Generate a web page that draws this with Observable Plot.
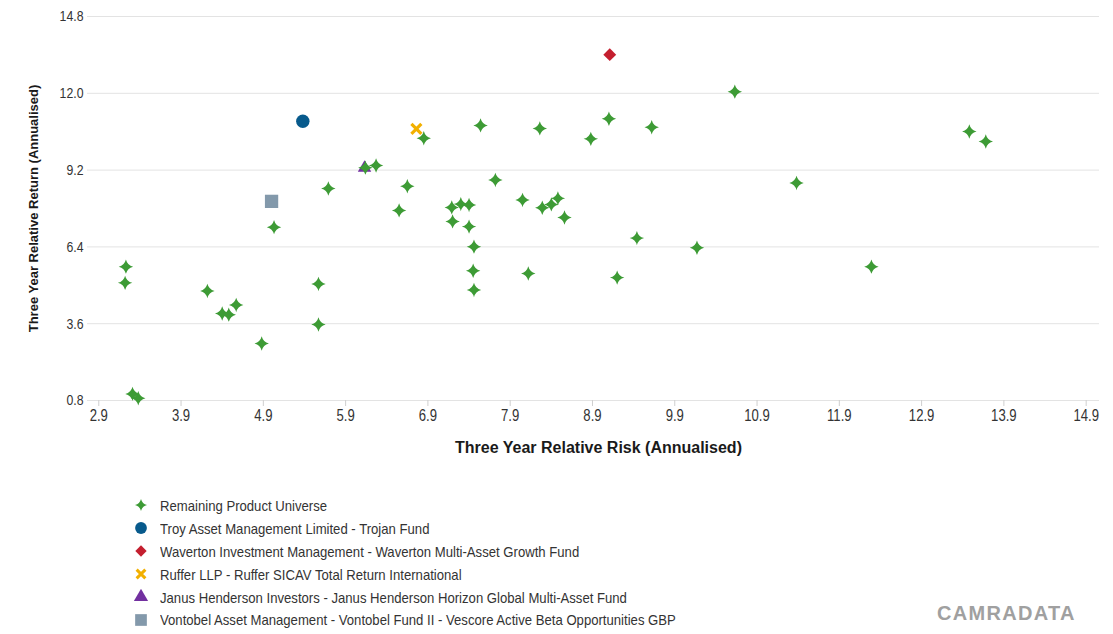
<!DOCTYPE html>
<html>
<head>
<meta charset="utf-8">
<script src="https://cdn.jsdelivr.net/npm/d3@7"></script>
<script src="https://cdn.jsdelivr.net/npm/@observablehq/plot@0.6"></script>
<style>
  html, body { margin: 0; padding: 0; background: #fff; }
  #wrap { position: relative; width: 1113px; height: 634px; overflow: hidden; font-family: "Liberation Sans", Arial, sans-serif; }
  #chart svg { display: block; }
  g[aria-label="x-axis label"] { font-weight: bold; font-size: 16px; font-family: "Liberation Sans", Arial, sans-serif; fill: #1a1a1a; }
  g[aria-label="y-axis label"] { font-weight: bold; font-size: 13px; font-family: "Liberation Sans", Arial, sans-serif; fill: #1a1a1a; }
  .legend { position: absolute; left: 133px; top: 494px; color: #333; font-size: 15px; }
  .legend .row { display: flex; align-items: center; height: 22.9px; white-space: nowrap; }
  .legend svg { width: 16px; height: 16px; margin-right: 11px; flex: none; }
  .legend span { display: inline-block; transform: scaleX(0.875); transform-origin: 0 50%; }
  .brand { position: absolute; left: 937px; top: 600px; font-weight: bold; font-size: 20px; letter-spacing: 1.3px; color: #a0a0a0; font-family: "Liberation Sans", Arial, sans-serif; line-height: 26px; }
</style>
</head>
<body>
<div id="wrap">
  <div id="chart"></div>
  <div class="legend" id="legend"></div>
  <div class="brand">CAMRADATA</div>
</div>
<script>
// ---- data ----
const universeRisk = [6.14, 6.27, 5.69, 5.03, 3.23, 3.22, 4.22, 4.40, 4.48, 4.57, 4.88, 5.57, 5.57, 3.31, 3.38,
  10.63, 6.85, 7.54, 8.26, 9.10, 8.88, 9.62, 6.65, 6.55, 7.72, 7.19, 7.30, 7.40, 7.20, 7.40, 7.46, 7.45, 7.46,
  8.05, 8.29, 8.40, 8.48, 8.56, 8.12, 9.20, 9.44, 10.17, 11.38, 12.29, 13.48, 13.68];
const universeReturn = [9.29, 9.37, 8.53, 7.12, 5.68, 5.09, 4.79, 3.97, 3.93, 4.28, 2.88, 5.05, 3.57, 1.04, 0.88,
  12.06, 10.36, 10.83, 10.72, 11.07, 10.34, 10.76, 8.61, 7.73, 8.84, 7.84, 7.96, 7.93, 7.33, 7.14, 6.41, 5.53, 4.83,
  8.11, 7.83, 7.95, 8.17, 7.47, 5.43, 5.28, 6.72, 6.37, 8.73, 5.68, 10.61, 10.24];
const universeName = "Remaining Product Universe";
const fundNames = [
  "Troy Asset Management Limited - Trojan Fund",
  "Waverton Investment Management - Waverton Multi-Asset Growth Fund",
  "Ruffer LLP - Ruffer SICAV Total Return International",
  "Janus Henderson Investors - Janus Henderson Horizon Global Multi-Asset Fund",
  "Vontobel Asset Management - Vontobel Fund II - Vescore Active Beta Opportunities GBP"
];
const fundRisk = [5.38, 9.11, 6.76, 6.13, 5.00];
const fundReturn = [10.98, 13.41, 10.70, 9.28, 8.06];
const xTicks = [2.9, 3.9, 4.9, 5.9, 6.9, 7.9, 8.9, 9.9, 10.9, 11.9, 12.9, 13.9, 14.9];
const yTicks = [0.8, 3.6, 6.4, 9.2, 12.0, 14.8];
const xTitle = "Three Year Relative Risk (Annualised)";
const yTitle = "Three Year Relative Return (Annualised)";

// ---- styles ----
const star4 = {
  draw(ctx, size) {
    const R = Math.sqrt(size / Math.PI), c = R * 0.2;
    ctx.moveTo(0, -R);
    ctx.quadraticCurveTo(c, -c, R, 0);
    ctx.quadraticCurveTo(c, c, 0, R);
    ctx.quadraticCurveTo(-c, c, -R, 0);
    ctx.quadraticCurveTo(-c, -c, 0, -R);
    ctx.closePath();
  }
};
const universeStyle = {color: "#3d9b35", symbol: star4, r: 7.2};
const fundStyles = [
  {color: "#075a8c", symbol: d3.symbolCircle, name: "circle", r: 6.7},
  {color: "#c41f2f", symbol: d3.symbolDiamond2, name: "diamond2", r: 5.8},
  {color: "#f2b000", symbol: d3.symbolTimes, name: "times", r: 4.6, stroke: true},
  {color: "#7230a0", symbol: d3.symbolTriangle, name: "triangle", r: 5.0, legendR: 6.0},
  {color: "#8399ab", symbol: d3.symbolSquare, name: "square", r: 7.5}
];
const tickFont = '"Liberation Sans", Arial, sans-serif';

// ---- build table ----
const universe = universeRisk.map((x, i) => ({x, y: universeReturn[i]}));
const funds = fundNames.map((name, i) => ({name, x: fundRisk[i], y: fundReturn[i], i}));

function fundDot(i) {
  const s = fundStyles[i];
  const data = funds.filter(d => d.i === i);
  return s.stroke
    ? Plot.dot(data, {x: "x", y: "y", symbol: s.name, r: s.r, stroke: s.color, strokeWidth: 3.2, fill: "none"})
    : Plot.dot(data, {x: "x", y: "y", symbol: s.name, r: s.r, fill: s.color, stroke: "none"});
}

const chart = Plot.plot({
  width: 1113,
  height: 470,
  marginLeft: 87,
  marginRight: 14,
  marginTop: 16,
  marginBottom: 70,
  style: {fontFamily: tickFont, color: "#333", background: "#fff"},
  x: {domain: [2.763, 15.062]},
  y: {domain: [0.8, 14.8]},
  marks: [
    Plot.gridY(yTicks, {stroke: "#e3e3e3", strokeOpacity: 1}),
    Plot.axisY(yTicks, {tickSize: 0, tickPadding: 4, tickFormat: d3.format(".1f"), fontSize: 15,
      label: yTitle, labelAnchor: "center", labelOffset: 59, labelArrow: "none"}),
    Plot.axisX(xTicks, {tickSize: 6, tickPadding: 3, stroke: "#cfcfcf", strokeOpacity: 1, tickFormat: d3.format(".1f"), fontSize: 16,
      label: xTitle, labelAnchor: "center", labelOffset: 52, labelArrow: "none"}),
    fundDot(3),
    Plot.dot(universe, {x: "x", y: "y", symbol: universeStyle.symbol, r: universeStyle.r, fill: universeStyle.color, stroke: "none"}),
    fundDot(0), fundDot(1), fundDot(2), fundDot(4)
  ]
});
document.getElementById("chart").appendChild(chart);
// condensed look for tick labels (reference uses a narrow face)
d3.select(chart).selectAll('g[aria-label$="tick label"] text').each(function() {
  const t = this.getAttribute("transform") || "";
  this.setAttribute("transform", t + " scale(0.82,1)");
});
// nudge the x title slightly right, as in the reference
d3.select(chart).selectAll('g[aria-label="x-axis label"] text').attr("dx", 5);

// ---- legend ----
const legend = document.getElementById("legend");
const entries = [{name: universeName, color: universeStyle.color, symbol: star4, r: 6}]
  .concat(fundNames.map((name, i) => ({name, color: fundStyles[i].color, symbol: fundStyles[i].symbol,
    r: (fundStyles[i].legendR || fundStyles[i].r) * 0.88, stroke: fundStyles[i].stroke})));
for (const e of entries) {
  const row = document.createElement("div");
  row.className = "row";
  const svg = d3.create("svg").attr("viewBox", "-8 -8 16 16");
  const p = d3.symbol().type(e.symbol).size(Math.PI * e.r * e.r)();
  svg.append("path").attr("d", p)
    .attr("fill", e.stroke ? "none" : e.color)
    .attr("stroke", e.stroke ? e.color : "none")
    .attr("stroke-width", e.stroke ? 3 : 0);
  row.appendChild(svg.node());
  const span = document.createElement("span");
  span.textContent = e.name;
  row.appendChild(span);
  legend.appendChild(row);
}
</script>
</body>
</html>
